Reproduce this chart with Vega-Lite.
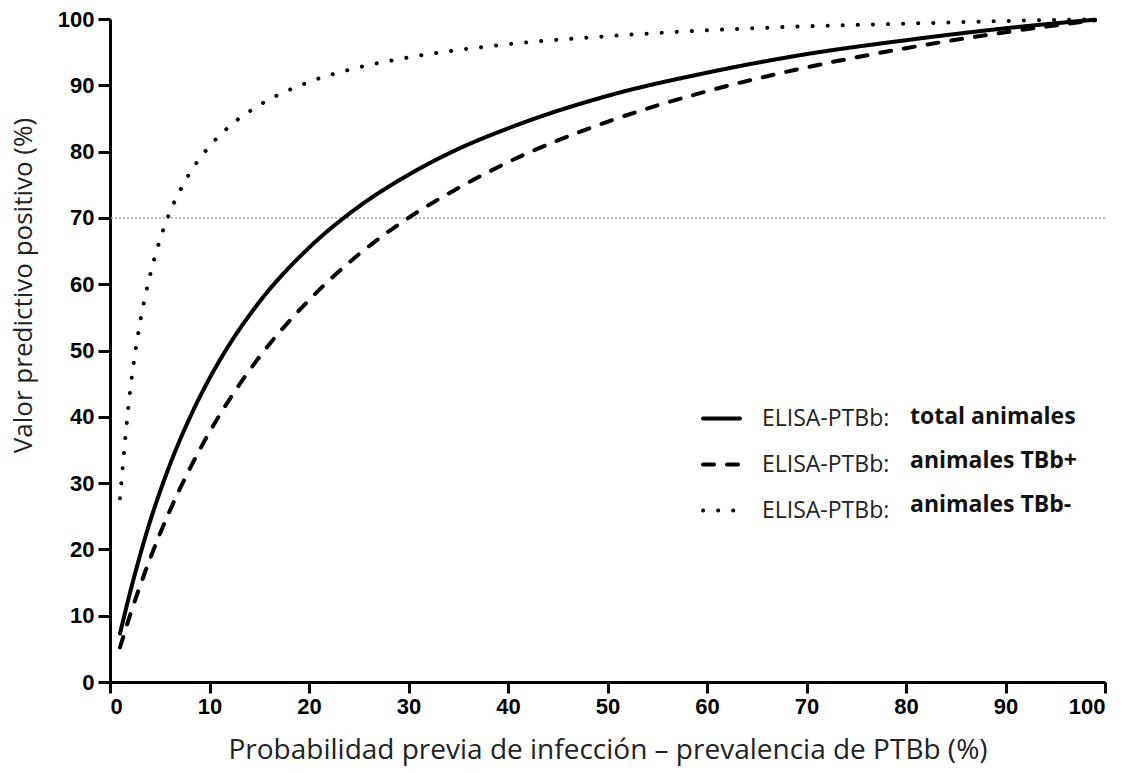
{
  "$schema": "https://vega.github.io/schema/vega-lite/v6.json",
  "width": 995,
  "height": 663,
  "autosize": "none",
  "padding": {"left": 110, "top": 19, "right": 28, "bottom": 91},
  "background": "white",
  "config": {"view": {"stroke": null}, "font": "Open Sans"},
  "layer": [
    {
      "data": {"values": [{"ref": 70}]},
      "mark": {"type": "rule", "color": "#a6a6a6", "strokeDash": [2, 2], "strokeWidth": 1.5},
      "encoding": {
        "y": {"field": "ref", "type": "quantitative", "scale": {"domain": [0, 100], "nice": false}}
      }
    },
    {
      "data": {
        "values": [
          {"x": 1, "y": 7.3, "c": "total", "g": "total animales"},
          {"x": 2, "y": 13.4, "c": "total", "g": "total animales"},
          {"x": 3, "y": 19.0, "c": "total", "g": "total animales"},
          {"x": 4, "y": 24.1, "c": "total", "g": "total animales"},
          {"x": 5, "y": 28.6, "c": "total", "g": "total animales"},
          {"x": 6, "y": 32.7, "c": "total", "g": "total animales"},
          {"x": 8, "y": 39.8, "c": "total", "g": "total animales"},
          {"x": 10, "y": 45.8, "c": "total", "g": "total animales"},
          {"x": 12, "y": 50.9, "c": "total", "g": "total animales"},
          {"x": 15, "y": 57.3, "c": "total", "g": "total animales"},
          {"x": 20, "y": 65.5, "c": "total", "g": "total animales"},
          {"x": 25, "y": 71.7, "c": "total", "g": "total animales"},
          {"x": 30, "y": 76.5, "c": "total", "g": "total animales"},
          {"x": 35, "y": 80.4, "c": "total", "g": "total animales"},
          {"x": 40, "y": 83.5, "c": "total", "g": "total animales"},
          {"x": 50, "y": 88.4, "c": "total", "g": "total animales"},
          {"x": 60, "y": 91.9, "c": "total", "g": "total animales"},
          {"x": 70, "y": 94.7, "c": "total", "g": "total animales"},
          {"x": 80, "y": 96.8, "c": "total", "g": "total animales"},
          {"x": 90, "y": 98.6, "c": "total", "g": "total animales"},
          {"x": 99, "y": 99.9, "c": "total", "g": "total animales"},
          {"x": 1, "y": 5.2, "c": "TBb+", "g": "animales TBb+"},
          {"x": 2, "y": 10.0, "c": "TBb+", "g": "animales TBb+"},
          {"x": 3, "y": 14.4, "c": "TBb+", "g": "animales TBb+"},
          {"x": 4, "y": 18.5, "c": "TBb+", "g": "animales TBb+"},
          {"x": 5, "y": 22.3, "c": "TBb+", "g": "animales TBb+"},
          {"x": 6, "y": 25.8, "c": "TBb+", "g": "animales TBb+"},
          {"x": 8, "y": 32.1, "c": "TBb+", "g": "animales TBb+"},
          {"x": 10, "y": 37.7, "c": "TBb+", "g": "animales TBb+"},
          {"x": 12, "y": 42.6, "c": "TBb+", "g": "animales TBb+"},
          {"x": 15, "y": 49.0, "c": "TBb+", "g": "animales TBb+"},
          {"x": 20, "y": 57.6, "c": "TBb+", "g": "animales TBb+"},
          {"x": 25, "y": 64.5, "c": "TBb+", "g": "animales TBb+"},
          {"x": 30, "y": 70.0, "c": "TBb+", "g": "animales TBb+"},
          {"x": 35, "y": 74.5, "c": "TBb+", "g": "animales TBb+"},
          {"x": 40, "y": 78.4, "c": "TBb+", "g": "animales TBb+"},
          {"x": 50, "y": 84.5, "c": "TBb+", "g": "animales TBb+"},
          {"x": 60, "y": 89.1, "c": "TBb+", "g": "animales TBb+"},
          {"x": 70, "y": 92.7, "c": "TBb+", "g": "animales TBb+"},
          {"x": 80, "y": 95.6, "c": "TBb+", "g": "animales TBb+"},
          {"x": 90, "y": 98.0, "c": "TBb+", "g": "animales TBb+"},
          {"x": 99, "y": 99.8, "c": "TBb+", "g": "animales TBb+"},
          {"x": 1, "y": 27.7, "c": "TBb-", "g": "animales TBb-"},
          {"x": 2, "y": 43.6, "c": "TBb-", "g": "animales TBb-"},
          {"x": 3, "y": 54.0, "c": "TBb-", "g": "animales TBb-"},
          {"x": 4, "y": 61.2, "c": "TBb-", "g": "animales TBb-"},
          {"x": 5, "y": 66.6, "c": "TBb-", "g": "animales TBb-"},
          {"x": 6, "y": 70.8, "c": "TBb-", "g": "animales TBb-"},
          {"x": 7, "y": 74.0, "c": "TBb-", "g": "animales TBb-"},
          {"x": 8, "y": 76.7, "c": "TBb-", "g": "animales TBb-"},
          {"x": 10, "y": 80.8, "c": "TBb-", "g": "animales TBb-"},
          {"x": 12, "y": 83.8, "c": "TBb-", "g": "animales TBb-"},
          {"x": 15, "y": 87.0, "c": "TBb-", "g": "animales TBb-"},
          {"x": 20, "y": 90.5, "c": "TBb-", "g": "animales TBb-"},
          {"x": 25, "y": 92.7, "c": "TBb-", "g": "animales TBb-"},
          {"x": 30, "y": 94.2, "c": "TBb-", "g": "animales TBb-"},
          {"x": 40, "y": 96.2, "c": "TBb-", "g": "animales TBb-"},
          {"x": 50, "y": 97.4, "c": "TBb-", "g": "animales TBb-"},
          {"x": 60, "y": 98.3, "c": "TBb-", "g": "animales TBb-"},
          {"x": 70, "y": 98.9, "c": "TBb-", "g": "animales TBb-"},
          {"x": 80, "y": 99.3, "c": "TBb-", "g": "animales TBb-"},
          {"x": 90, "y": 99.7, "c": "TBb-", "g": "animales TBb-"},
          {"x": 99, "y": 99.97, "c": "TBb-", "g": "animales TBb-"}
        ]
      },
      "mark": {"type": "line", "color": "black", "strokeWidth": 4, "strokeCap": "round", "interpolate": "monotone"},
      "encoding": {
        "x": {
          "field": "x", "type": "quantitative",
          "scale": {"domain": [0, 100], "nice": false},
          "axis": {
            "values": [0, 10, 20, 30, 40, 50, 60, 70, 80, 90, 100],
            "grid": false, "domainWidth": 3, "domainColor": "black",
            "tickColor": "black", "tickWidth": 3, "tickSize": 11,
            "labelFont": "Liberation Sans", "labelFontWeight": "bold", "labelFontSize": 22,
            "labelColor": "black", "labelPadding": 3,
            "title": "Probabilidad previa de infección – prevalencia de PTBb (%)",
            "titleFont": "Open Sans", "titleFontWeight": "normal", "titleFontSize": 28,
            "titleColor": "#222", "titleY": 68, "titleBaseline": "middle"
          }
        },
        "y": {
          "field": "y", "type": "quantitative",
          "scale": {"domain": [0, 100], "nice": false},
          "axis": {
            "values": [0, 10, 20, 30, 40, 50, 60, 70, 80, 90, 100],
            "grid": false, "domainWidth": 3, "domainColor": "black",
            "tickColor": "black", "tickWidth": 3, "tickSize": 12,
            "labelFont": "Liberation Sans", "labelFontWeight": "bold", "labelFontSize": 22,
            "labelColor": "black", "labelPadding": 4,
            "title": "Valor predictivo positivo (%)",
            "titleFont": "Open Sans", "titleFontWeight": "normal", "titleFontSize": 26,
            "titleColor": "#222", "titleX": -87, "titleY": 266,
            "titleAlign": "center", "titleBaseline": "middle"
          }
        },
        "strokeDash": {
          "field": "c", "type": "nominal",
          "scale": {"domain": ["total", "TBb+", "TBb-"], "range": [[1, 0], [11, 13], [0.1, 15]]},
          "legend": {
            "title": null, "orient": "none", "legendX": 591, "legendY": 379, "padding": 0,
            "symbolType": "stroke", "symbolSize": 1369, "symbolStrokeWidth": 4, "symbolStrokeColor": "black",
            "labelExpr": "'ELISA-PTBb:'", "labelFont": "Open Sans", "labelFontSize": 23,
            "labelColor": "#222", "labelOffset": 20, "rowPadding": 13, "labelLimit": 400,
            "encode": {"symbols": {"update": {"strokeCap": {"value": "round"}}}}
          }
        },
        "opacity": {
          "field": "g", "type": "nominal",
          "scale": {"domain": ["total animales", "animales TBb+", "animales TBb-"], "range": [1, 1]},
          "legend": {
            "title": null, "orient": "none", "legendX": 743, "legendY": 379, "padding": 0,
            "symbolType": "stroke", "symbolSize": 1369, "symbolStrokeWidth": 0,
            "labelFont": "Open Sans", "labelFontSize": 23, "labelFontWeight": "bold",
            "labelColor": "#111", "labelOffset": 20, "rowPadding": 13, "labelLimit": 400,
            "encode": {"symbols": {"update": {"stroke": {"value": "transparent"}, "opacity": {"value": 0}}}}
          }
        }
      }
    }
  ]
}
